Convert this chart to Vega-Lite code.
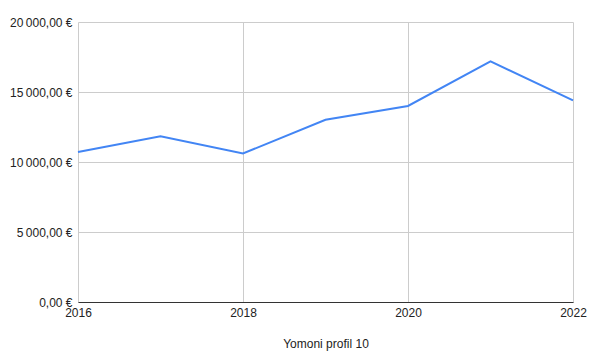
{
  "$schema": "https://vega.github.io/schema/vega-lite/v6.json",
  "autosize": "none",
  "width": 495,
  "height": 280,
  "padding": {"left": 78, "top": 22, "right": 16, "bottom": 58},
  "background": "white",
  "data": {"values": [
    {"year": 2016, "value": 10710},
    {"year": 2017, "value": 11830},
    {"year": 2018, "value": 10610},
    {"year": 2019, "value": 13020},
    {"year": 2020, "value": 14000},
    {"year": 2021, "value": 17190},
    {"year": 2022, "value": 14400}
  ]},
  "mark": {"type": "line", "color": "#4285F4", "strokeWidth": 2},
  "encoding": {
    "x": {
      "field": "year", "type": "quantitative",
      "scale": {"domain": [2016, 2022], "nice": false, "zero": false},
      "axis": {
        "title": "Yomoni profil 10",
        "values": [2016, 2018, 2020, 2022],
        "format": "d",
        "grid": true, "gridColor": "#cccccc",
        "ticks": false,
        "domainColor": "#333333",
        "labelFont": "Liberation Sans", "labelFontSize": 12, "labelColor": "#222222",
        "labelPadding": 5,
        "titleFont": "Liberation Sans", "titleFontSize": 12, "titleFontWeight": "normal", "titleColor": "#222222",
        "titlePadding": 20,
        "labelFlush": false
      }
    },
    "y": {
      "field": "value", "type": "quantitative",
      "scale": {"domain": [0, 20000], "nice": false},
      "axis": {
        "title": null,
        "values": [0, 5000, 10000, 15000, 20000],
        "labelExpr": "replace(replace(format(datum.value, ',.2f'), ',', '\u2009'), '.', ',') + ' €'",
        "grid": true, "gridColor": "#cccccc",
        "ticks": false,
        "domain": false,
        "labelFont": "Liberation Sans", "labelFontSize": 12, "labelColor": "#222222",
        "labelPadding": 6
      }
    }
  },
  "config": {"view": {"stroke": null}}
}
